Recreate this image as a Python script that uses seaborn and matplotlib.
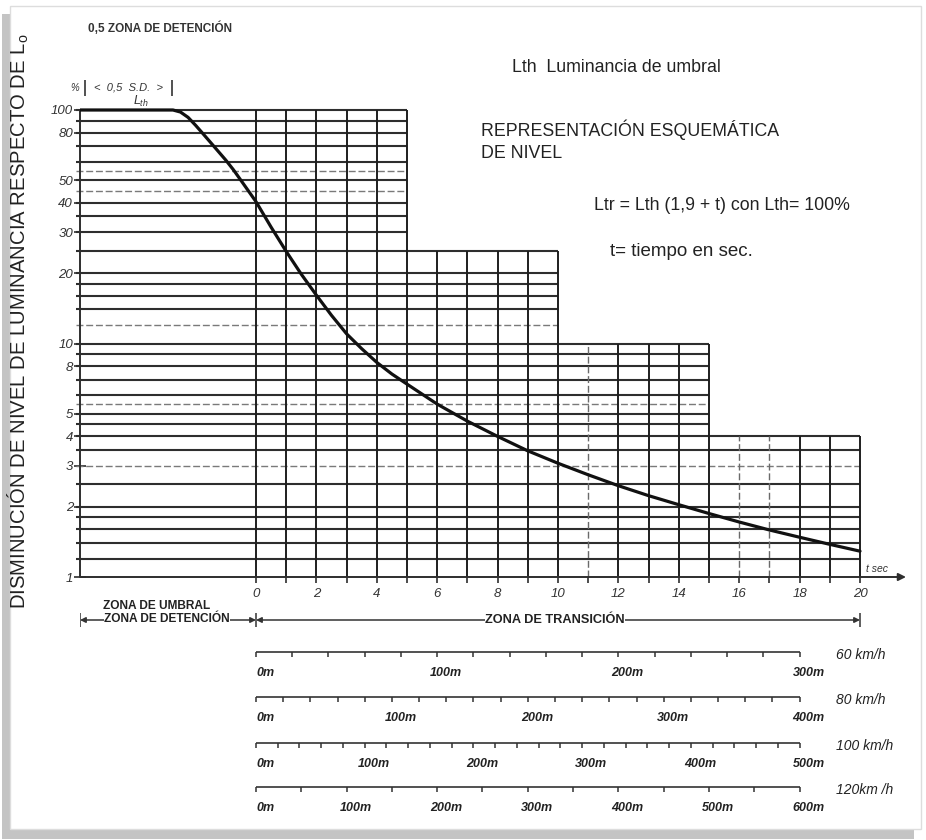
import matplotlib

matplotlib.use("Agg")
import matplotlib.pyplot as plt
import numpy as np
import seaborn as sns
from matplotlib.patches import Rectangle
from matplotlib.ticker import NullLocator

W, H = 926, 840

# curva: t (s) y nivel (% de Lo)
curve_t = [-5.83, -2.75, -2.5, -2.25, -2.0, -1.75, -1.5, -1.25, -1.0, -0.75, -0.5, -0.25,
           0.0, 0.5, 1.0, 1.5, 2.0, 2.5, 3.0, 3.5, 4.0, 4.5, 5.0, 6.0, 7.0, 8.0, 9.0,
           10.0, 11.0, 12.0, 13.0, 14.0, 15.0, 16.0, 17.0, 18.0, 19.0, 20.0]
curve_level = [100, 100, 98, 93, 86, 79, 72.5, 66.5, 61, 55.5, 50, 45,
               40.5, 31.5, 24.8, 19.8, 16.1, 13.2, 11.0, 9.5, 8.3, 7.4, 6.7, 5.5, 4.65, 4.0, 3.47,
               3.07, 2.74, 2.46, 2.23, 2.04, 1.87, 1.72, 1.59, 1.48, 1.38, 1.29]

# papel logaritmico escalonado
grid_levels = [100, 90, 80, 70, 60, 55, 50, 45, 40, 35, 30, 25, 20, 18, 16, 14, 12,
               10, 9, 8, 7, 6, 5.5, 5, 4.5, 4, 3.5, 3, 2.5, 2, 1.8, 1.6, 1.4, 1.2]
faint_levels = [55, 45, 12, 5.5, 3]
grid_t = list(range(0, 21))
faint_t = [11, 16, 17]
block_end = [5, 10, 15, 20]
block_top = [100, 25, 10, 4]

ytick_vals = [100, 80, 50, 40, 30, 20, 10, 8, 5, 4, 3, 2, 1]
xtick_vals = list(range(0, 21, 2))

# reglas de distancia por velocidad
speeds_kmh = [60, 80, 100, 120]
speed_labels = ["60 km/h", "80 km/h", "100 km/h", "120km /h"]
scale_max_m = [300, 400, 500, 600]
tick_step_m = [20, 20, 20, 50]
label_step_m = 100

# geometria en pixeles de la imagen
T0_PX, PX_PER_S = 256, 30.2
Y1_PX, PX_PER_DEC = 577, 233.5
LEFT_PX, RIGHT_PX, TOP_PX = 80, 914, 70


def fx(x):
    return x / W


def fy(y):
    return 1 - y / H


def px_to_t(x):
    return (x - T0_PX) / PX_PER_S


def px_to_level(y):
    return 10 ** ((Y1_PX - y) / PX_PER_DEC)


sns.set_theme(style="white")
plt.rcParams["font.family"] = ["Liberation Sans", "DejaVu Sans"]
plt.rcParams["mathtext.fontset"] = "custom"
plt.rcParams["mathtext.rm"] = "Liberation Sans"
plt.rcParams["mathtext.it"] = "Liberation Sans:italic"

fig = plt.figure(figsize=(W / 100, H / 100), dpi=100)
fig.patch.set_facecolor("white")
# marco con sombra
fig.patches.append(Rectangle((fx(2), fy(839)), fx(912), fy(14) - fy(839), transform=fig.transFigure,
                             facecolor="#c4c4c4", edgecolor="none", zorder=-3))
fig.patches.append(Rectangle((fx(10), fy(829)), fx(911), fy(6) - fy(829), transform=fig.transFigure,
                             facecolor="white", edgecolor="#dddddd", lw=1, zorder=-2))

xmin, xmax = px_to_t(LEFT_PX), px_to_t(RIGHT_PX)
ax = fig.add_axes([fx(LEFT_PX), fy(Y1_PX), fx(RIGHT_PX - LEFT_PX), fy(TOP_PX) - fy(Y1_PX)])
ax.set_facecolor("none")
ax.set_yscale("log")
ax.set_xlim(xmin, xmax)
ax.set_ylim(1, px_to_level(TOP_PX))
for s in ax.spines.values():
    s.set_visible(False)

line_col = "#2e2e2e"
for v in grid_levels:
    end = max(e for e, top in zip(block_end, block_top) if top >= v)
    faint = v in faint_levels
    ax.hlines(v, px_to_t(76), end, color="#7a7a7a" if faint else line_col,
              lw=1.0 if faint else 1.5, ls=(0, (5, 2)) if faint else "-", clip_on=False)
for t in grid_t:
    top = next(top for e, top in zip(block_end, block_top) if t <= e)
    faint = t in faint_t
    ax.vlines(t, 1, top, color="#6a6a6a" if faint else "#1e1e1e",
              lw=1.0 if faint else 1.4, ls=(0, (5, 2)) if faint else "-")
ax.vlines(xmin, 1, 100, color=line_col, lw=1.4, clip_on=False)

sns.lineplot(x=curve_t, y=curve_level, ax=ax, color="#111111", lw=2.3, sort=False, zorder=5)
ax.set_xlabel("")
ax.set_ylabel("")

# eje de tiempo con flecha
ax.annotate("", xy=(px_to_t(906), 1), xytext=(xmin, 1), annotation_clip=False,
            arrowprops=dict(arrowstyle="-|>", lw=1.4, color=line_col, mutation_scale=11,
                            shrinkA=0, shrinkB=0))
ax.text(20.2, 1.03, "t sec", fontsize=7.5, style="italic", color="#333", va="bottom", ha="left")

ax.set_xticks(grid_t)
ax.set_xticklabels([str(t) if t in xtick_vals else "" for t in grid_t])
ax.set_yticks(ytick_vals)
ax.set_yticklabels([str(v) for v in ytick_vals])
ax.yaxis.set_minor_locator(NullLocator())
ax.tick_params(axis="x", direction="out", length=4, width=1.2, color=line_col, pad=4,
               labelsize=9.5, labelcolor="#333", bottom=True)
ax.tick_params(axis="y", direction="inout", length=8, width=1.2, color=line_col, pad=1,
               labelsize=9.5, labelcolor="#333", left=True)
for lab in ax.get_xticklabels() + ax.get_yticklabels():
    lab.set_style("italic")

# anotacion 0,5 S.D.
for xb in (85, 172):
    ax.vlines(px_to_t(xb), px_to_level(96), px_to_level(80), color="#333", lw=1.2, clip_on=False)
ax.text(px_to_t(128), px_to_level(88), "<  0,5  S.D.  >", fontsize=8, style="italic",
        ha="center", va="center", color="#333")
ax.text(px_to_t(141), px_to_level(101), "$L_{th}$", fontsize=9, ha="center", va="center", color="#333")
fig.text(fx(75), fy(88), "%", fontsize=7, style="italic", ha="center", va="center", color="#333")

# textos
fig.text(fx(88), fy(28), "0,5 ZONA DE DETENCIÓN", fontsize=8.5, weight="bold", va="center", color="#333")
fig.text(fx(512), fy(68), "Lth  Luminancia de umbral", fontsize=12.8, va="center", color="#222")
fig.text(fx(481), fy(130), "REPRESENTACIÓN ESQUEMÁTICA", fontsize=12.8, va="center", color="#222")
fig.text(fx(481), fy(153), "DE NIVEL", fontsize=12.8, va="center", color="#222")
fig.text(fx(594), fy(205), "Ltr = Lth (1,9 + t) con Lth= 100%", fontsize=12.8, va="center", color="#222")
fig.text(fx(610), fy(252), "t= tiempo en sec.", fontsize=13.5, va="center", color="#222")
fig.text(fx(18), fy(321), "DISMINUCIÓN DE NIVEL DE LUMINANCIA RESPECTO DE L$_{\\mathrm{o}}$",
         fontsize=14.6, rotation=90, ha="center", va="center", color="#222")

# zona inferior: zonas y reglas de distancia
axb = fig.add_axes([fx(LEFT_PX), fy(835), fx(RIGHT_PX - LEFT_PX), fy(595) - fy(835)])
axb.set_xlim(xmin, xmax)
axb.set_ylim(835, 595)
axb.axis("off")

arrow_kw = dict(arrowstyle="<|-|>", lw=1.1, color="#333", mutation_scale=8, shrinkA=0, shrinkB=0)
axb.annotate("", xy=(0, 620), xytext=(xmin, 620), arrowprops=arrow_kw)
axb.annotate("", xy=(20, 620), xytext=(0, 620), arrowprops=arrow_kw)
axb.vlines([xmin, 0, 20], 613, 627, color="#333", lw=1.1)
axb.text(px_to_t(157), 606, "ZONA DE UMBRAL", fontsize=8.6, weight="bold", ha="center", va="center", color="#222")
axb.text(px_to_t(167), 619, "ZONA DE DETENCIÓN", fontsize=8.6, weight="bold", ha="center", va="center",
         color="#222", bbox=dict(facecolor="white", edgecolor="none", pad=0.3))
axb.text(px_to_t(555), 620, "ZONA DE TRANSICIÓN", fontsize=9.2, weight="bold", ha="center", va="center",
         color="#222", bbox=dict(facecolor="white", edgecolor="none", pad=0.3))

scale_y = [652, 697, 743, 787]
for v, lab, dmax, step, y in zip(speeds_kmh, speed_labels, scale_max_m, tick_step_m, scale_y):
    ms = v / 3.6
    axb.hlines(y, 0, dmax / ms, color="#333", lw=1.2)
    ticks = np.arange(0, dmax + 1, step)
    axb.vlines(ticks / ms, y, y + 5, color="#333", lw=1.1)
    for d in range(0, dmax + 1, label_step_m):
        axb.text(d / ms + 0.3, y + 21, f"{d}m", fontsize=9, style="italic", weight="bold",
                 ha="center", va="center", color="#222")
    axb.text(px_to_t(836), y + 3, lab, fontsize=10, style="italic", ha="left", va="center", color="#222")

fig.savefig("out.png", dpi=100)
